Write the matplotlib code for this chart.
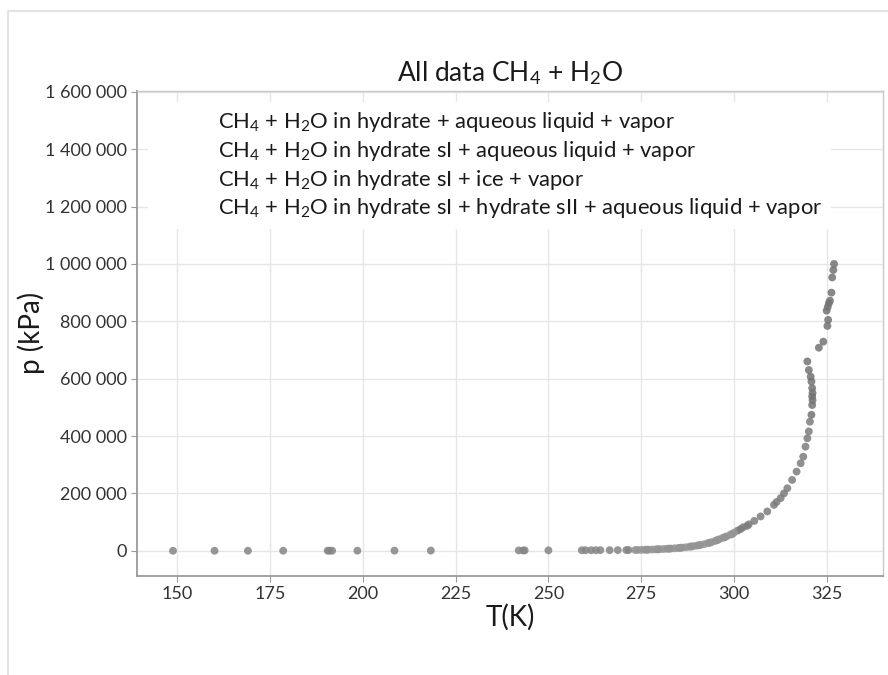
import matplotlib
matplotlib.use("Agg")
import matplotlib.pyplot as plt
from matplotlib.ticker import FuncFormatter
from matplotlib.patches import Rectangle

plt.rcParams['font.family'] = ['Lato', 'DejaVu Sans']
plt.rcParams['mathtext.fontset'] = 'custom'
plt.rcParams['mathtext.rm'] = 'Lato'
plt.rcParams['mathtext.it'] = 'Lato:italic'
plt.rcParams['mathtext.bf'] = 'Lato:bold'

# equilibrium data, T in K and p in kPa
T_h_lw_v = [276.5, 279.5, 282.5, 285.5, 288.5, 290.5, 293.5, 295.5, 297.5, 299.5,
            301.0, 301.8, 302.5, 303.6, 304.0, 305.5, 307.2, 309.0, 310.8, 311.5,
            312.6, 313.5, 314.4, 315.7, 316.9, 318.0, 318.7, 319.3, 319.8, 320.2, 320.5]
p_h_lw_v = [3600, 5100, 7200, 10300, 14800, 19000, 28000, 37000, 47000, 58000,
            70000, 75500, 82000, 87000, 92000, 104000, 119600, 137000, 160000, 170000,
            183500, 200000, 218000, 247000, 276000, 305000, 328000, 363000, 392000, 416000, 450000]

T_si_lw_v = [273.4, 274.0, 275.0, 276.0, 277.0, 278.0, 279.0, 280.0, 281.0, 282.0,
             283.0, 284.0, 285.0, 286.0, 287.0, 288.0, 289.0, 290.0, 291.0, 292.0,
             293.0, 294.0, 295.0, 296.0, 297.0, 298.0, 299.0, 300.0]
p_si_lw_v = [2600, 2800, 3100, 3400, 3900, 4300, 4900, 5400, 6100, 6800,
             7700, 8600, 9700, 10900, 12300, 13900, 15800, 17900, 20300, 23000,
             26500, 30000, 34500, 40000, 45000, 50000, 56000, 63000]

T_si_ice_v = [148.8, 160.0, 169.0, 178.5, 190.5, 191.0, 191.7, 198.5, 208.5, 218.3,
              242.0, 243.2, 243.6, 250.0, 259.0, 260.0, 261.5, 262.8, 264.0, 266.5,
              268.7, 271.0, 271.6]
p_si_ice_v = [5, 14, 30, 60, 160, 165, 170, 260, 420, 620,
              1180, 1220, 1240, 1450, 1800, 1850, 1920, 1980, 2050, 2170,
              2290, 2420, 2460]

T_si_sii_lw_v = [320.9, 321.1, 321.2, 321.1, 321.2, 321.1, 320.9, 320.7, 320.2, 319.8,
                 322.9, 324.1, 325.2, 325.4, 325.0, 325.3, 325.6, 325.9, 326.3, 326.5,
                 326.8, 327.0]
p_si_sii_lw_v = [474000, 508000, 525000, 538000, 550000, 567000, 590000, 607000, 630000, 660000,
                 708000, 729000, 784000, 805000, 837000, 850000, 863000, 872000, 900000, 953000,
                 979000, 1000000]

labels = [r'CH$_4$ + H$_2$O in hydrate + aqueous liquid + vapor',
          r'CH$_4$ + H$_2$O in hydrate sI + aqueous liquid + vapor',
          r'CH$_4$ + H$_2$O in hydrate sI + ice + vapor',
          r'CH$_4$ + H$_2$O in hydrate sI + hydrate sII + aqueous liquid + vapor']

fig = plt.figure(figsize=(8.88, 6.75), dpi=100)
ax = fig.add_axes([0.1543, 0.1471, 0.8401, 0.7185])

# thin gray frame around the whole figure
fig.patches.append(Rectangle((7.5 / 888, -0.1), 2.0, 1.1 - 11 / 675,
                             transform=fig.transFigure, fill=False,
                             edgecolor='#e3e3e3', linewidth=1.5))

series = [(T_h_lw_v, p_h_lw_v, '#7d7d7d'),
          (T_si_lw_v, p_si_lw_v, '#959595'),
          (T_si_ice_v, p_si_ice_v, '#858585'),
          (T_si_sii_lw_v, p_si_sii_lw_v, '#737373')]
for (t, p, c), lab in zip(series, labels):
    ax.scatter(t, p, s=32, color=c, alpha=0.85, edgecolors='none', label=lab, zorder=3)

ax.set_xlim(139.1, 340.2)
ax.set_ylim(-87000, 1604000)
ax.set_xticks([150, 175, 200, 225, 250, 275, 300, 325])
ax.set_yticks(range(0, 1600001, 200000))
ax.yaxis.set_major_formatter(FuncFormatter(lambda v, pos: f'{int(v):,}'.replace(',', ' ')))

ax.grid(True, color='#e6e6e6', linewidth=1.0, zorder=0)
ax.set_axisbelow(True)
for side in ['left', 'bottom']:
    ax.spines[side].set_color('#9a9a9a')
    ax.spines[side].set_linewidth(1.3)
for side in ['top', 'right']:
    ax.spines[side].set_color('#c8c8c8')
    ax.spines[side].set_linewidth(1.0)
ax.tick_params(axis='both', colors='#9a9a9a', labelcolor='#333333', labelsize=13, length=4)

ax.set_title(r'All data CH$_4$ + H$_2$O', fontsize=19, color='#1a1a1a', pad=7)
ax.set_xlabel('T(K)', fontsize=20, color='#1a1a1a')
ax.xaxis.set_label_coords(0.5, -0.058)
ax.set_ylabel('p (kPa)', fontsize=20, color='#1a1a1a')
ax.yaxis.set_label_coords(-0.123, 0.5)

leg = ax.legend(loc='upper center', bbox_to_anchor=(0.4725, 0.99), fontsize=15.8,
                frameon=True, framealpha=1.0, edgecolor='none', fancybox=False,
                handlelength=1.5, handletextpad=1.3, labelspacing=0.21,
                borderpad=0.38, borderaxespad=0.3)
leg.set_zorder(5)
for h in leg.legend_handles:
    h.set_visible(False)
for txt in leg.get_texts():
    txt.set_color('#1a1a1a')

fig.savefig('out.png', dpi=100)
